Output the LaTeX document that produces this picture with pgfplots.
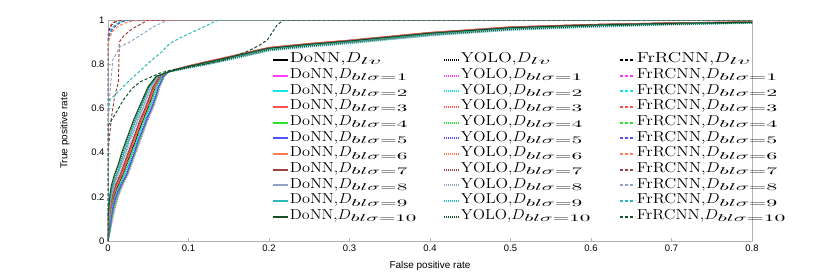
\documentclass[border=0pt]{standalone}
\usepackage{graphicx}
\usepackage{fontspec}
\setsansfont{Liberation Sans}
\usepackage{pgfplots}
\usepackage{pgfplotstable}
\pgfplotsset{compat=1.18}
\definecolor{colLV}{RGB}{0,0,0}
\definecolor{colA}{RGB}{255,60,255}
\definecolor{colB}{RGB}{20,230,230}
\definecolor{colC}{RGB}{255,80,80}
\definecolor{colD}{RGB}{40,230,40}
\definecolor{colE}{RGB}{80,80,255}
\definecolor{colF}{RGB}{255,125,80}
\definecolor{colG}{RGB}{155,65,65}
\definecolor{colH}{RGB}{145,165,200}
\definecolor{colI}{RGB}{45,185,185}
\definecolor{colJ}{RGB}{20,80,35}
\newcommand\sbx[1]{\hbox{\scalebox{1.9}[1]{$\scriptstyle #1$}}}
% legend entry of a given width: #1 width, #2 name, #3 subscript
\newcommand\lge[3]{\resizebox{#1}{\height}{#2,$D_{\sbx{#3}}$}}
\pgfplotstableread{
t     d0   d1   d2   d3   d4   d5   d6   d7   d8   d9   d10  y0   y1   y2   y3   y4   y5   y6   y7   y8   y9   y10
0     0    0    0    0    0    0    0    0    0    0    0    0    0    0    0    0    0    0    0    0    0    0
0.05  .001 .002 .001 .001 .003 .002 .000 .001 .000 .000 .000 .001 .003 .002 .001 .002 .002 .001 .001 .000 .000 .000
0.10  .002 .004 .003 .002 .005 .004 .001 .001 .001 .000 .000 .003 .006 .004 .002 .003 .004 .002 .001 .001 .000 .000
0.15  .004 .007 .005 .003 .008 .006 .003 .002 .002 .001 .001 .005 .009 .006 .004 .005 .006 .004 .003 .002 .001 .001
0.20  .007 .011 .009 .006 .012 .010 .006 .005 .004 .003 .002 .008 .013 .009 .007 .008 .009 .006 .006 .004 .002 .002
0.25  .012 .017 .014 .011 .017 .016 .010 .009 .007 .006 .004 .013 .018 .015 .012 .014 .015 .011 .010 .008 .006 .005
0.30  .018 .023 .020 .017 .024 .023 .016 .015 .012 .011 .008 .019 .025 .021 .018 .020 .022 .017 .016 .013 .010 .009
0.35  .023 .028 .026 .022 .029 .028 .021 .020 .017 .016 .013 .024 .030 .026 .023 .025 .027 .022 .021 .018 .015 .014
0.40  .028 .033 .030 .027 .034 .033 .026 .025 .022 .020 .017 .029 .035 .031 .028 .030 .032 .027 .026 .023 .019 .018
0.45  .034 .038 .035 .032 .039 .037 .031 .030 .026 .025 .022 .034 .040 .036 .033 .036 .037 .032 .031 .028 .024 .023
0.50  .038 .043 .040 .037 .044 .043 .036 .035 .032 .030 .027 .039 .045 .041 .038 .040 .042 .037 .036 .033 .029 .028
0.55  .044 .048 .045 .042 .049 .048 .041 .040 .037 .035 .032 .044 .050 .046 .043 .045 .047 .042 .041 .038 .034 .033
0.60  .049 .054 .051 .048 .055 .054 .047 .046 .043 .041 .038 .050 .056 .052 .049 .051 .053 .048 .047 .044 .040 .039
0.65  .054 .059 .056 .053 .060 .059 .052 .051 .048 .046 .044 .055 .061 .057 .054 .056 .058 .053 .052 .049 .046 .045
0.70  .059 .063 .060 .058 .064 .063 .057 .056 .054 .052 .050 .060 .065 .061 .059 .060 .062 .058 .057 .054 .052 .051
0.745 .066 .069 .067 .065 .070 .069 .065 .064 .062 .061 .060 .066 .070 .067 .066 .067 .068 .065 .065 .063 .061 .060
0.765 .075 .075 .075 .075 .075 .075 .075 .075 .075 .075 .075 .075 .075 .075 .075 .075 .075 .075 .075 .075 .075 .075
}\rise
\pgfplotstableread{
f     d0   d1   d2   d3   d4   d5   d6   d7   d8   d9   d10  y0   y1   y2   y3   y4   y5   y6   y7   y8   y9   y10
0.075 .765 .765 .765 .765 .765 .765 .765 .765 .765 .765 .765 .765 .765 .765 .765 .765 .765 .765 .765 .765 .765 .765
0.085 .776 .777 .776 .778 .777 .776 .777 .777 .775 .774 .776 .775 .777 .776 .776 .775 .775 .776 .774 .772 .771 .773
0.10  .790 .792 .791 .793 .791 .791 .792 .791 .789 .787 .790 .789 .791 .789 .791 .788 .789 .789 .786 .783 .782 .784
0.12  .806 .809 .807 .810 .808 .807 .809 .808 .804 .802 .806 .804 .808 .805 .807 .803 .804 .805 .801 .797 .795 .799
0.14  .822 .825 .823 .826 .824 .823 .825 .824 .820 .818 .822 .820 .824 .821 .823 .819 .820 .821 .817 .812 .810 .814
0.17  .847 .850 .848 .851 .849 .848 .850 .849 .845 .843 .847 .845 .849 .846 .848 .844 .845 .846 .842 .837 .835 .839
0.20  .872 .875 .873 .876 .874 .873 .875 .874 .870 .868 .872 .870 .874 .871 .873 .869 .870 .871 .867 .862 .860 .864
0.25  .890 .893 .891 .894 .892 .891 .893 .892 .888 .886 .890 .888 .892 .889 .891 .887 .888 .889 .885 .880 .878 .882
0.30  .905 .908 .906 .909 .907 .906 .908 .907 .903 .901 .905 .903 .907 .904 .906 .902 .903 .904 .900 .895 .893 .897
0.40  .940 .943 .941 .944 .942 .941 .943 .942 .938 .936 .940 .938 .942 .939 .941 .937 .938 .939 .935 .930 .928 .932
0.50  .965 .968 .966 .969 .967 .966 .968 .967 .963 .961 .965 .963 .967 .964 .966 .962 .963 .964 .960 .955 .953 .957
0.60  .977 .979 .978 .980 .979 .978 .979 .979 .975 .974 .977 .975 .979 .976 .978 .975 .975 .976 .973 .969 .967 .971
0.70  .985 .987 .986 .987 .986 .986 .987 .986 .984 .983 .985 .984 .986 .984 .986 .983 .984 .984 .982 .979 .978 .980
0.80  .990 .991 .990 .992 .991 .990 .991 .991 .989 .988 .990 .989 .991 .990 .990 .989 .989 .990 .988 .986 .985 .987
}\tail
\pgfplotsset{
  don/.style={solid, line width=1bp},
  yol/.style={line width=1bp, dash pattern=on 1bp off 1bp},
  frc/.style={line width=1bp, dash pattern=on 3bp off 2bp},
}
% #1 column index, #2 subscript, #3 colour, #4 DoNN width, #5 YOLO width
\newcommand\series[5]{%
  \addplot[don,color=#3] table[x=d#1,y=t]{\rise};
  \addlegendentry{\lge{#4}{DoNN}{#2}}
  \addplot[don,color=#3,forget plot] table[x=f,y=d#1]{\tail};
  \addplot[yol,color=#3] table[x=y#1,y=t]{\rise};
  \addlegendentry{\lge{#5}{YOLO}{#2}}
  \addplot[yol,color=#3,forget plot] table[x=f,y=y#1]{\tail};
}
\begin{document}
\begin{tikzpicture}
\begin{axis}[
  at={(0,0)}, anchor=south west,
  scale only axis, width=644bp, height=221bp,
  xmin=0, xmax=0.8, ymin=0, ymax=1,
  xtick={0,0.1,0.2,0.3,0.4,0.5,0.6,0.7,0.8},
  ytick={0,0.2,0.4,0.6,0.8,1},
  axis line style={draw=black!30},
  tick style={black!30},
  major tick length=3bp,
  tick align=inside,
  tick pos=left,
  /pgf/number format/assume math mode=true,
  ticklabel style={font=\sffamily\fontsize{9.5}{11}\selectfont},
  label style={font=\sffamily\fontsize{10}{12}\selectfont},
  xlabel={False positive rate},
  ylabel={True positive rate},
  xlabel style={at={(axis description cs:0.5,-0.113)}, anchor=center},
  ylabel style={at={(axis description cs:-0.067,0.5)}, anchor=center},
  legend columns=3,
  legend cell align=left,
  legend image code/.code={\draw[#1,line width=2bp] (0bp,0bp) -- (15bp,0bp);},
  legend style={at={(axis description cs:0.2554,0.855)}, anchor=north west,
    draw=none, fill=none, inner sep=0pt, outer sep=0pt,
    row sep=0pt, column sep=0pt,
    font=\fontsize{14.5}{15}\selectfont,
    nodes={inner xsep=0.5bp, inner ysep=0.6bp, text height=10bp, text depth=4.5bp},
    /tikz/column 2/.style={text width=153bp, align=left},
    /tikz/column 4/.style={text width=158bp, align=left},
  },
]
\series{0}{lv}{colLV}{92bp}{90bp}
\addplot[frc,color=colLV] coordinates {(0,0)(0,0.92)(0.001,0.95)(0.003,0.97)(0.006,0.985)(0.01,0.993)(0.02,1)(0.8,1)};
\addlegendentry{\lge{114bp}{FrRCNN}{lv}}
\series{1}{bl\sigma=1}{colA}{118bp}{122bp}
\addplot[frc,color=colA] coordinates {(0,0)(0,0.9)(0.002,0.94)(0.005,0.965)(0.01,0.98)(0.015,0.99)(0.025,1)(0.8,1)};
\addlegendentry{\lge{141bp}{FrRCNN}{bl\sigma=1}}
\series{2}{bl\sigma=2}{colB}{118bp}{122bp}
\addplot[frc,color=colB] coordinates {(0,0)(0,0.91)(0.002,0.945)(0.004,0.96)(0.008,0.975)(0.014,0.99)(0.022,1)(0.8,1)};
\addlegendentry{\lge{141bp}{FrRCNN}{bl\sigma=2}}
\series{3}{bl\sigma=3}{colC}{118bp}{122bp}
\addplot[frc,color=colC] coordinates {(0,0)(0,0.93)(0.001,0.96)(0.004,0.98)(0.008,0.992)(0.015,1)(0.8,1)};
\addlegendentry{\lge{141bp}{FrRCNN}{bl\sigma=3}}
\series{4}{bl\sigma=4}{colD}{118bp}{122bp}
\addplot[frc,color=colD] coordinates {(0,0)(0,0.9)(0.002,0.93)(0.004,0.95)(0.008,0.97)(0.013,0.985)(0.02,0.995)(0.03,1)(0.8,1)};
\addlegendentry{\lge{141bp}{FrRCNN}{bl\sigma=4}}
\series{5}{bl\sigma=5}{colE}{118bp}{122bp}
\addplot[frc,color=colE] coordinates {(0,0)(0,0.91)(0.002,0.94)(0.006,0.96)(0.01,0.975)(0.016,0.99)(0.025,1)(0.8,1)};
\addlegendentry{\lge{141bp}{FrRCNN}{bl\sigma=5}}
\series{6}{bl\sigma=6}{colF}{118bp}{122bp}
\addplot[frc,color=colF] coordinates {(0,0)(0,0.88)(0.002,0.92)(0.006,0.95)(0.012,0.97)(0.02,0.985)(0.03,0.995)(0.04,1)(0.8,1)};
\addlegendentry{\lge{141bp}{FrRCNN}{bl\sigma=6}}
\series{7}{bl\sigma=7}{colG}{118bp}{122bp}
\addplot[frc,color=colG] coordinates {(0,0)(0,0.4)(0.004,0.55)(0.008,0.65)(0.013,0.72)(0.014,0.9)(0.02,0.93)(0.03,0.96)(0.045,0.99)(0.05,1)(0.8,1)};
\addlegendentry{\lge{141bp}{FrRCNN}{bl\sigma=7}}
\series{8}{bl\sigma=8}{colH}{118bp}{122bp}
\addplot[frc,color=colH] coordinates {(0,0)(0,0.5)(0.003,0.7)(0.006,0.82)(0.015,0.88)(0.027,0.9)(0.044,0.94)(0.056,0.968)(0.065,0.984)(0.075,1)(0.8,1)};
\addlegendentry{\lge{141bp}{FrRCNN}{bl\sigma=8}}
\series{9}{bl\sigma=9}{colI}{118bp}{122bp}
\addplot[frc,color=colI] coordinates {(0,0)(0,0.6)(0.002,0.638)(0.014,0.68)(0.027,0.728)(0.04,0.77)(0.052,0.811)(0.065,0.85)(0.077,0.894)(0.09,0.92)(0.102,0.94)(0.12,0.97)(0.131,0.99)(0.137,1)(0.8,1)};
\addlegendentry{\lge{141bp}{FrRCNN}{bl\sigma=9}}
\series{10}{bl\sigma=10}{colJ}{127bp}{130bp}
\addplot[frc,color=colJ] coordinates {(0,0)(0,0.52)(0.01,0.58)(0.019,0.638)(0.03,0.69)(0.04,0.72)(0.052,0.74)(0.065,0.76)(0.08,0.775)(0.102,0.789)(0.12,0.8)(0.143,0.819)(0.16,0.84)(0.177,0.864)(0.19,0.89)(0.198,0.91)(0.21,0.977)(0.218,1)(0.8,1)};
\addlegendentry{\lge{149bp}{FrRCNN}{bl\sigma=10}}
\end{axis}
\path (-108bp,-32bp) rectangle (722bp,241bp);
\end{tikzpicture}
\end{document}
